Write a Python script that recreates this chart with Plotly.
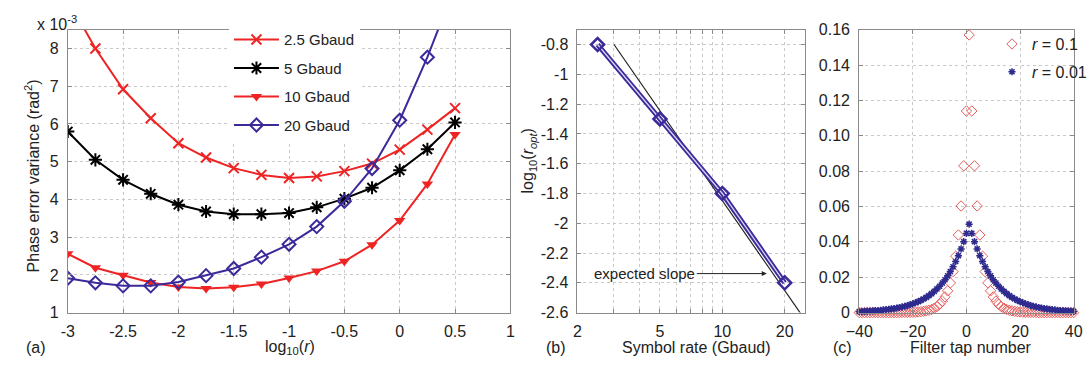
import plotly.graph_objects as go

# ---------------- Panel (a) data ----------------
log_r = [-3, -2.75, -2.5, -2.25, -2, -1.75, -1.5, -1.25, -1, -0.75, -0.5, -0.25, 0, 0.25, 0.5]
var_2p5 = [9.3, 8.0, 6.92, 6.15, 5.49, 5.11, 4.83, 4.65, 4.57, 4.61, 4.75, 4.95, 5.32, 5.85, 6.42]
var_5 = [5.8, 5.05, 4.52, 4.15, 3.86, 3.68, 3.61, 3.61, 3.64, 3.79, 4.02, 4.31, 4.77, 5.33, 6.04]
var_10 = [2.56, 2.19, 1.99, 1.8, 1.68, 1.64, 1.67, 1.76, 1.92, 2.1, 2.36, 2.8, 3.44, 4.41, 5.72]
var_20 = [1.91, 1.79, 1.71, 1.71, 1.81, 1.98, 2.17, 2.47, 2.81, 3.28, 3.95, 4.82, 6.1, 7.77, 9.65]
legend_a = ["2.5 Gbaud", "5 Gbaud", "10 Gbaud", "20 Gbaud"]

# ---------------- Panel (b) data ----------------
symbol_rate = [2.5, 5, 10, 20]
log_ropt = [-0.8, -1.3, -1.8, -2.4]
expected_x = [3.0, 24.0]
expected_y = [-0.80, -2.61]

# ---------------- Panel (c) data ----------------
taps = list(range(-40, 41))
coef_r01 = [0, 0, 0, 0, 0, 0, 0, 0, 0, 0, 0, 0, 0, 0, 0, 0,
            0.0001, 0.0001, 0.0001, 0.0002, 0.0002, 0.0003, 0.0004, 0.0005, 0.0007,
            0.0010, 0.0013, 0.0018, 0.0025, 0.0034, 0.0047, 0.0065, 0.0089, 0.0123, 0.0168,
            0.0232, 0.0319, 0.0439, 0.0603, 0.083, 0.114,
            0.157,
            0.114, 0.083, 0.0603, 0.0439, 0.0319, 0.0232, 0.0168, 0.0123, 0.0089, 0.0065,
            0.0047, 0.0034, 0.0025, 0.0018, 0.0013, 0.0010,
            0.0007, 0.0005, 0.0004, 0.0003, 0.0002, 0.0002, 0.0001, 0.0001, 0.0001,
            0, 0, 0, 0, 0, 0, 0, 0, 0, 0, 0, 0, 0, 0]
coef_r001 = [0.0005, 0.0006, 0.0007, 0.0008, 0.0009, 0.0010, 0.0011, 0.0012, 0.0013, 0.0015,
             0.0017, 0.0019, 0.0021, 0.0023, 0.0026, 0.0029, 0.0032, 0.0036, 0.0040, 0.0045,
             0.0050, 0.0056, 0.0062, 0.0069, 0.0077, 0.0086, 0.0096, 0.0107, 0.0120, 0.0134,
             0.0149, 0.0167, 0.0186, 0.0208, 0.0232, 0.0259, 0.0289, 0.0322, 0.0360, 0.0401,
             0.0448,
             0.0500,
             0.0448, 0.0401, 0.0360, 0.0322, 0.0289, 0.0259, 0.0232, 0.0208, 0.0186, 0.0167,
             0.0149, 0.0134, 0.0120, 0.0107, 0.0096, 0.0086, 0.0077, 0.0069, 0.0062, 0.0056,
             0.0050, 0.0045, 0.0040, 0.0036, 0.0032, 0.0029, 0.0026, 0.0023, 0.0021, 0.0019,
             0.0017, 0.0015, 0.0013, 0.0012, 0.0011, 0.0010, 0.0009, 0.0008, 0.0007]
legend_c = ["<i>r</i> = 0.1", "<i>r</i> = 0.01"]

RED = "#ee2424"
NAVY = "#3b2a9a"
PINK = "#e85c5c"
STAR = "#2e2a8e"
FONT = "Liberation Sans, Arial, sans-serif"
W, H = 1092, 365

fig = go.Figure()

# Panel (a)
fig.add_trace(go.Scatter(x=log_r, y=var_2p5, name=legend_a[0], mode="lines+markers",
                         line=dict(color=RED, width=2), legendgroup="a1",
                         marker=dict(symbol="x-thin-open", size=10, color=RED, line=dict(color=RED, width=2)),
                         xaxis="x", yaxis="y", legend="legend"))
fig.add_trace(go.Scatter(x=log_r, y=var_5, name=legend_a[1], mode="lines+markers",
                         line=dict(color="black", width=2), legendgroup="a2",
                         marker=dict(symbol="asterisk-open", size=11, color="black", line=dict(color="black", width=2)),
                         xaxis="x", yaxis="y", legend="legend"))
fig.add_trace(go.Scatter(x=log_r, y=var_10, name=legend_a[2], mode="lines+markers",
                         line=dict(color=RED, width=2), legendgroup="a3",
                         marker=dict(symbol="triangle-down", size=10, color=RED),
                         xaxis="x", yaxis="y", legend="legend"))
fig.add_trace(go.Scatter(x=log_r, y=var_20, name=legend_a[3], mode="lines+markers",
                         line=dict(color=NAVY, width=2), legendgroup="a4",
                         marker=dict(symbol="diamond-open", size=10, color=NAVY, line=dict(color=NAVY, width=2)),
                         xaxis="x", yaxis="y", legend="legend"))

# Panel (b)
fig.add_trace(go.Scatter(x=expected_x, y=expected_y, mode="lines", showlegend=False,
                         line=dict(color="#222222", width=1.2), xaxis="x2", yaxis="y2"))
fig.add_trace(go.Scatter(x=symbol_rate, y=log_ropt, mode="lines", showlegend=False,
                         line=dict(color=NAVY, width=5), xaxis="x2", yaxis="y2"))
fig.add_trace(go.Scatter(x=symbol_rate, y=log_ropt, mode="lines", showlegend=False,
                         line=dict(color="#d8d2f0", width=1.3), xaxis="x2", yaxis="y2"))
fig.add_trace(go.Scatter(x=symbol_rate, y=log_ropt, mode="markers", showlegend=False,
                         marker=dict(symbol="diamond-open", size=10, color=NAVY, line=dict(color=NAVY, width=2.5)),
                         xaxis="x2", yaxis="y2"))

# Panel (c)
fig.add_trace(go.Scatter(x=taps, y=coef_r01, mode="markers", name=legend_c[0], legendgroup="c1",
                         marker=dict(symbol="diamond-open", size=8, color=PINK, line=dict(color=PINK, width=1)),
                         cliponaxis=False, xaxis="x3", yaxis="y3", legend="legend2"))
fig.add_trace(go.Scatter(x=taps, y=coef_r001, mode="markers", name=legend_c[1], legendgroup="c2",
                         marker=dict(symbol="asterisk-open", size=6, color=STAR, line=dict(color=STAR, width=1.5)),
                         cliponaxis=False, xaxis="x3", yaxis="y3", legend="legend2"))

ydom = [1 - 319.5 / H, 1 - 22.7 / H]

axis_common = dict(showline=True, linecolor="#8a8a8a", linewidth=1, mirror="ticks",
                   ticks="inside", ticklen=4, tickcolor="#8a8a8a",
                   showgrid=True, gridcolor="#c9c9c9", griddash="dot", gridwidth=1,
                   zeroline=False, tickfont=dict(family=FONT, size=16, color="#222"))
xstyle = dict(axis_common, ticklabelstandoff=4)
ystyle = dict(axis_common, ticklabelstandoff=5)

fig.update_layout(
    width=W, height=H, margin=dict(l=0, r=0, t=0, b=0),
    paper_bgcolor="white", plot_bgcolor="white",
    font=dict(family=FONT, size=16, color="#222"),
    xaxis=dict(domain=[55 / W, 508 / W], range=[-3, 1], tickvals=[-3, -2.5, -2, -1.5, -1, -0.5, 0, 0.5, 1],
               ticktext=["-3", "-2.5", "-2", "-1.5", "-1", "-0.5", "0", "0.5", "1"], anchor="y", **xstyle),
    yaxis=dict(domain=ydom, range=[1, 8.5], tickvals=[1, 2, 3, 4, 5, 6, 7, 8], anchor="x", **ystyle),
    xaxis2=dict(domain=[576.7 / W, 809.3 / W], type="log", range=[0.30103, 1.398],
                tickvals=[2, 3, 4, 5, 6, 7, 8, 9, 10, 20],
                ticktext=["2", "", "", "5", "", "", "", "", "10", "20"], anchor="y2", **xstyle),
    yaxis2=dict(domain=ydom, range=[-2.6, -0.7],
                tickvals=[-2.6, -2.4, -2.2, -2.0, -1.8, -1.6, -1.4, -1.2, -1.0, -0.8],
                ticktext=["-2.6", "-2.4", "-2.2", "-2", "-1.8", "-1.6", "-1.4", "-1.2", "-1", "-0.8"],
                anchor="x2", **ystyle),
    xaxis3=dict(domain=[865 / W, 1084.5 / W], range=[-40, 40], tickvals=[-40, -20, 0, 20, 40],
                anchor="y3", **xstyle),
    yaxis3=dict(domain=ydom, range=[0, 0.16], tickvals=[0, 0.02, 0.04, 0.06, 0.08, 0.10, 0.12, 0.14, 0.16],
                ticktext=["0", "0.02", "0.04", "0.06", "0.08", "0.10", "0.12", "0.14", "0.16"],
                anchor="x3", **ystyle),
    legend=dict(x=220 / W, y=1 - 16 / H, xanchor="left", yanchor="top", bgcolor="white",
                borderwidth=0, font=dict(family=FONT, size=15, color="#222"), itemwidth=45,
                traceorder="grouped", tracegroupgap=6),
    legend2=dict(x=1001 / W, y=1 - 20 / H, xanchor="left", yanchor="top", bgcolor="rgba(255,255,255,0)",
                 borderwidth=0, font=dict(family=FONT, size=16, color="#222"), itemwidth=30,
                 traceorder="grouped", tracegroupgap=4),
)

ann = []
def add_text(text, x, y, xanchor="center", yanchor="middle", angle=0, size=16):
    ann.append(dict(text=text, x=x / W, y=1 - y / H, xref="paper", yref="paper", showarrow=False,
                    xanchor=xanchor, yanchor=yanchor, textangle=angle,
                    font=dict(family=FONT, size=size, color="#222")))

add_text("x 10<sup>-3</sup>", 21, 16, xanchor="left")
add_text("Phase error variance (rad<sup>2</sup>)", 18, 176, angle=-90)
add_text("log<sub>10</sub>(<i>r</i>)", 282, 356)
add_text("(a)", 10, 356, xanchor="left")
add_text("log<sub>10</sub>(<i>r</i><sub><i>opt</i></sub>)", 527, 160, angle=-90)
add_text("Symbol rate (Gbaud)", 699, 356)
add_text("(b)", 542, 356, xanchor="left")
add_text("Filter tap number", 979, 356)
add_text("(c)", 836, 356, xanchor="left")

ann.append(dict(text="expected slope", x=1.2146, y=-2.338, xref="x2", yref="y2",
                showarrow=True, arrowhead=2, arrowsize=1, arrowwidth=1, arrowcolor="#222",
                ax=-122, ay=0, font=dict(family=FONT, size=15, color="#222")))

fig.update_layout(annotations=ann)
fig.write_html("out.html", config={"displayModeBar": False},
               post_script="document.body.style.margin='0px';")
